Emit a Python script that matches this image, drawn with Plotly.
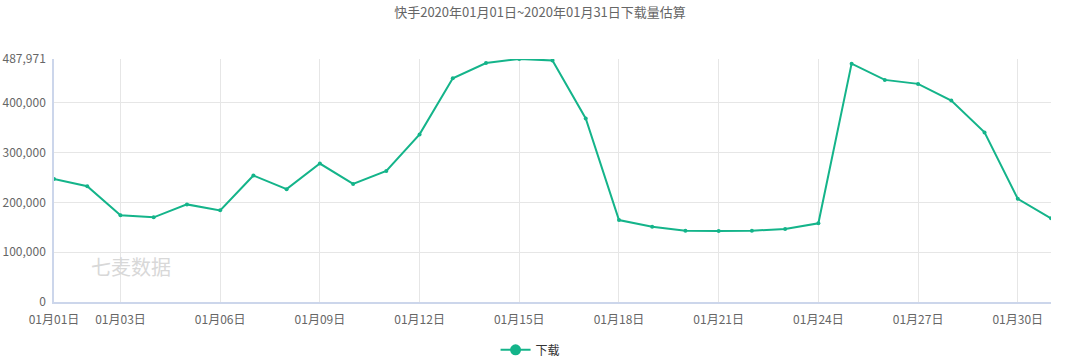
import plotly.graph_objects as go

dates = [f"01月{d:02d}日" for d in range(1, 32)]
downloads = [
    247200, 232600, 174000, 170000, 196000, 184000, 254000, 226600, 278000, 237200,
    263200, 336600, 449200, 480000, 487971, 485200, 368600, 164600, 151200, 143200,
    142600, 143200, 146600, 158000, 478600, 446000, 438000, 404600, 340600, 207200,
    168000,
]
x_tick_vals = ["01月01日", "01月03日", "01月06日", "01月09日", "01月12日", "01月15日",
               "01月18日", "01月21日", "01月24日", "01月27日", "01月30日", "01月31日"]
x_tick_text = ["01月01日", "01月03日", "01月06日", "01月09日", "01月12日", "01月15日",
               "01月18日", "01月21日", "01月24日", "01月27日", "01月30日", ""]
y_tick_vals = [0, 100000, 200000, 300000, 400000, 487971]
y_tick_text = ["0", "100,000", "200,000", "300,000", "400,000", "487,971"]

title_text = "快手2020年01月01日~2020年01月31日下载量估算"
series_name = "下载"
watermark = "七麦数据"

font_family = "Noto Sans CJK SC, Microsoft YaHei, sans-serif"
green = "#14b48a"

fig = go.Figure()
fig.add_trace(go.Scatter(
    x=dates, y=downloads, name=series_name, mode="lines+markers",
    line=dict(color=green, width=2),
    marker=dict(color=green, size=4),
    showlegend=False,
))
# legend entry with a larger symbol, as in the reference
fig.add_trace(go.Scatter(
    x=[None], y=[None], name=series_name, mode="lines+markers",
    line=dict(color=green, width=2),
    marker=dict(color=green, size=11),
    showlegend=True,
))

fig.update_layout(
    width=1080, height=361,
    margin=dict(l=54, r=29, t=59, b=59, autoexpand=False),
    paper_bgcolor="white", plot_bgcolor="white",
    font=dict(family=font_family, size=12, color="#666666"),
    title=dict(text=title_text, x=0.5, xanchor="center", y=0.965, yanchor="middle",
               font=dict(size=13, color="#666666", family=font_family)),
    showlegend=True,
    legend=dict(orientation="h", x=0.478, xanchor="center", y=-0.197, yanchor="middle",
                font=dict(size=12, color="#333333"), itemwidth=30),
    annotations=[dict(text=watermark, x=0.035, y=0.145, xref="paper", yref="paper",
                      xanchor="left", yanchor="middle", showarrow=False,
                      font=dict(size=20, color="#d8d8d8", family=font_family))],
)
fig.update_xaxes(
    type="category", range=[0, 30], automargin=False,
    tickmode="array", tickvals=x_tick_vals, ticktext=x_tick_text,
    showgrid=True, gridcolor="#e6e6e6", gridwidth=1,
    showline=True, linecolor="#ccd6eb", linewidth=1.5,
    ticks="", ticklabelstandoff=6, tickfont=dict(size=12, color="#666666"),
)
fig.update_yaxes(
    range=[0, 487971], automargin=False,
    tickmode="array", tickvals=y_tick_vals, ticktext=y_tick_text,
    showgrid=True, gridcolor="#e6e6e6", gridwidth=1,
    showline=True, linecolor="#ccd6eb", linewidth=1.5,
    zeroline=False, ticks="", ticklabelstandoff=4,
    tickfont=dict(size=12, color="#666666"),
)

fig.write_html("out.html")
